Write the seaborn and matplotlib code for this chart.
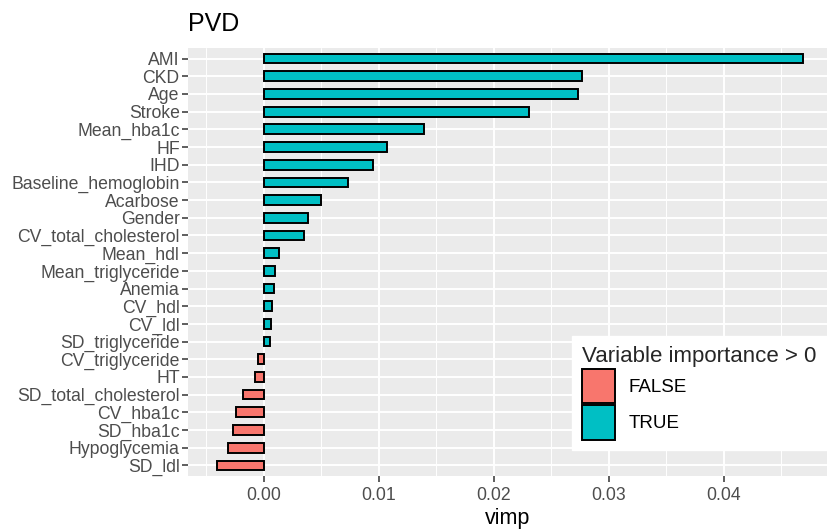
import matplotlib
matplotlib.use("Agg")
import matplotlib.pyplot as plt
from matplotlib.patches import Patch
from matplotlib.ticker import MultipleLocator
import seaborn as sns
import pandas as pd

variables = ["AMI", "CKD", "Age", "Stroke", "Mean_hba1c", "HF", "IHD",
             "Baseline_hemoglobin", "Acarbose", "Gender", "CV_total_cholesterol",
             "Mean_hdl", "Mean_triglyceride", "Anemia", "CV_hdl", "CV_ldl",
             "SD_triglyceride", "CV_triglyceride", "HT", "SD_total_cholesterol",
             "CV_hba1c", "SD_hba1c", "Hypoglycemia", "SD_ldl"]
vimp = [0.0469, 0.0277, 0.0273, 0.0231, 0.0139, 0.0107, 0.0095,
        0.0073, 0.0050, 0.0038, 0.0035,
        0.0013, 0.0010, 0.0009, 0.0007, 0.0006,
        0.0005, -0.0005, -0.00075, -0.0018,
        -0.0024, -0.0027, -0.0031, -0.0041]
group_labels = ["FALSE", "TRUE"]
group_colors = ["#F8766D", "#00BFC4"]

df = pd.DataFrame({"variable": variables, "vimp": vimp})
df["positive"] = ["TRUE" if v > 0 else "FALSE" for v in df["vimp"]]

sns.set_theme(style="darkgrid")
plt.rcParams["font.family"] = ["Liberation Sans", "DejaVu Sans"]

fig = plt.figure(figsize=(8.27, 5.31), dpi=100)
ax = fig.add_axes([0.2273, 0.1036, 0.7727, 0.806])
ax.set_facecolor("#EBEBEB")

sns.barplot(data=df, x="vimp", y="variable", hue="positive", order=variables,
            hue_order=group_labels, palette=dict(zip(group_labels, group_colors)),
            dodge=False, width=0.55, edgecolor="black", linewidth=1.4,
            saturation=1, orient="h", ax=ax, legend=False, zorder=3)

ax.set_xlim(-0.0066, 0.0490)
ax.set_ylim(len(variables) - 0.4, -0.6)
ax.set_xticks([0.0, 0.01, 0.02, 0.03, 0.04])
ax.set_xticklabels(["0.00", "0.01", "0.02", "0.03", "0.04"])
ax.xaxis.set_minor_locator(MultipleLocator(0.005))

ax.grid(False)
ax.set_axisbelow(True)
for x in [-0.005, 0.005, 0.015, 0.025, 0.035, 0.045]:
    ax.axvline(x, color="white", lw=0.7, zorder=0)
for x in [0.0, 0.01, 0.02, 0.03, 0.04]:
    ax.axvline(x, color="white", lw=1.4, zorder=0)
for i in range(len(variables)):
    ax.axhline(i, color="white", lw=1.4, zorder=0)

for s in ax.spines.values():
    s.set_visible(False)

ax.tick_params(axis="both", which="major", length=4, width=1.1, color="#333333",
               labelsize=12.7, labelcolor="#4D4D4D", pad=2, left=True, bottom=True)
ax.tick_params(axis="x", which="major", pad=4)
ax.tick_params(axis="both", which="minor", length=0)

ax.set_ylabel("")
ax.set_xlabel("vimp", fontsize=15.5, color="black", labelpad=3)
ax.set_title("PVD", loc="left", fontsize=18, color="black", pad=12)

handles = [Patch(facecolor=c, edgecolor="black", linewidth=1.4) for c in group_colors]
leg = ax.legend(handles, group_labels, title="Variable importance > 0",
                loc="lower right", bbox_to_anchor=(1.0, 0.061),
                fontsize=13.5, title_fontsize=16, frameon=True,
                facecolor="white", edgecolor="white", framealpha=1,
                handlelength=1.76, handleheight=2.45, labelspacing=0.1,
                handletextpad=0.7, borderpad=0.55, alignment="left",
                fancybox=False, borderaxespad=0)
leg.set_zorder(5)
for t in leg.get_texts():
    t.set_color("black")

fig.savefig("out.png", dpi=100)
